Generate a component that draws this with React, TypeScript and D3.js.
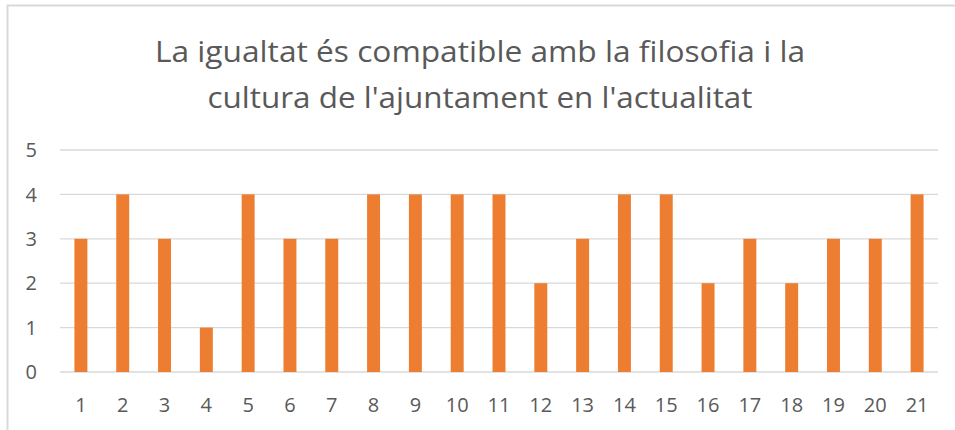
import React, { useEffect, useRef } from "react";
import * as d3 from "d3";

// chart data
const categories = ["1", "2", "3", "4", "5", "6", "7", "8", "9", "10", "11", "12", "13", "14", "15", "16", "17", "18", "19", "20", "21"];
const values = [3, 4, 3, 1, 4, 3, 3, 4, 4, 4, 4, 2, 3, 4, 4, 2, 3, 2, 3, 3, 4];
const yTicks = [0, 1, 2, 3, 4, 5];
const titleLines = ["La igualtat és compatible amb la filosofia i la", "cultura de l'ajuntament en l'actualitat"];

const App: React.FC = () => {
    const ref = useRef<SVGSVGElement>(null);

    useEffect(() => {
        const svg = d3.select(ref.current);
        svg.selectAll("*").remove();

        const W = 955;
        const H = 430;
        const margin = { top: 150, right: 17, bottom: 58, left: 60 };
        const font = "'Open Sans', 'Liberation Sans', sans-serif";

        // outer chart border (cut off on the right and bottom like the screenshot)
        svg.append("rect")
            .attr("x", 7.5)
            .attr("y", 5.5)
            .attr("width", W + 20)
            .attr("height", H + 20)
            .attr("fill", "#fff")
            .attr("stroke", "#d9d9d9")
            .attr("stroke-width", 2);

        const x = d3.scaleBand()
            .domain(categories)
            .range([margin.left, W - margin.right])
            .paddingInner(0.69)
            .paddingOuter(0.345);
        const y = d3.scaleLinear().domain([0, 5]).range([H - margin.bottom, margin.top]);

        // gridlines
        svg.append("g")
            .selectAll("line")
            .data(yTicks)
            .enter()
            .append("line")
            .attr("x1", margin.left)
            .attr("x2", W - margin.right)
            .attr("y1", (d) => y(d))
            .attr("y2", (d) => y(d))
            .attr("stroke", "#d9d9d9")
            .attr("stroke-width", 1.3);

        // bars
        svg.append("g")
            .selectAll("rect")
            .data(values)
            .enter()
            .append("rect")
            .attr("x", (d, i) => x(categories[i])!)
            .attr("y", (d) => y(d))
            .attr("width", x.bandwidth())
            .attr("height", (d) => y(0) - y(d))
            .attr("fill", "#ed7d31");

        // y tick labels
        svg.append("g")
            .selectAll("text")
            .data(yTicks)
            .enter()
            .append("text")
            .attr("x", 37)
            .attr("y", (d) => y(d))
            .attr("dy", "0.36em")
            .attr("text-anchor", "end")
            .attr("font-family", font)
            .attr("font-size", 20)
            .attr("fill", "#595959")
            .text((d) => d);

        // x tick labels
        svg.append("g")
            .selectAll("text")
            .data(categories)
            .enter()
            .append("text")
            .attr("x", (d) => x(d)! + x.bandwidth() / 2)
            .attr("y", 412)
            .attr("text-anchor", "middle")
            .attr("font-family", font)
            .attr("font-size", 20)
            .attr("fill", "#595959")
            .text((d) => d);

        // title
        const widths = [650, 545];
        svg.append("g")
            .selectAll("text")
            .data(titleLines)
            .enter()
            .append("text")
            .attr("x", 480)
            .attr("y", (d, i) => 62 + i * 46)
            .attr("text-anchor", "middle")
            .attr("font-family", font)
            .attr("font-size", 29)
            .attr("fill", "#595959")
            .attr("textLength", (d, i) => widths[i])
            .attr("lengthAdjust", "spacingAndGlyphs")
            .text((d) => d);
    }, []);

    return (
        <svg
            ref={ref}
            width={955}
            height={430}
            style={{ position: "absolute", left: 0, top: 0 }}
        ></svg>
    );
};

export default App;
